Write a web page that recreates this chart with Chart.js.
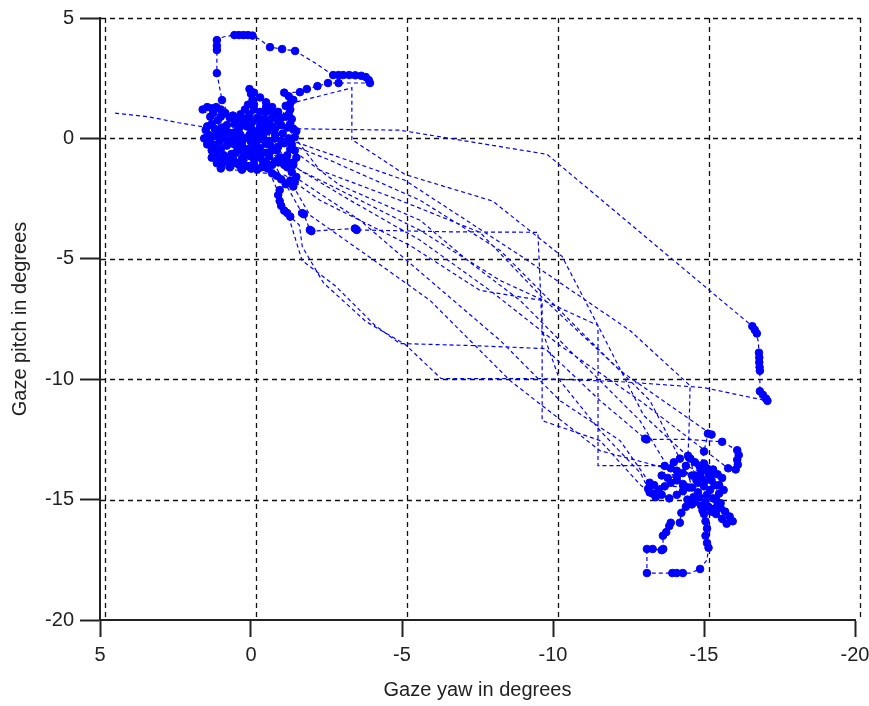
<!DOCTYPE html>
<html><head><meta charset="utf-8">
<script src="https://cdn.jsdelivr.net/npm/chart.js@4.4.1/dist/chart.umd.min.js"></script>
<style>html,body{margin:0;padding:0;background:#fff;}</style>
</head><body>
<canvas id="c" width="869" height="706"></canvas>
<script>
// ---- tick values ----
const xTickVals = [5, 0, -5, -10, -15, -20];
const yTickVals = [5, 0, -5, -10, -15, -20];

// ---- trajectory pieces: [yaw, pitch] in degrees ----
const blinkStart = [[4.5,1.05],[3.4,0.9],[2.4,0.65]];
const fixA1 = [[1.2,0.4],[1.1,0.3],[1.0,0.15],[0.9,0.0],[1.05,-0.15],[1.2,-0.3],[1.35,-0.1],[1.4,0.15],[1.0,-0.45],[0.8,-0.3],[0.7,-0.1],[0.6,0.1],[0.75,0.25],[0.55,-0.25],[0.45,-0.5],[0.65,-0.65],[0.9,-0.7]];
const fixA2 = [[1.1,0.75],[1.35,0.9],[1.6,1.2],[1.45,1.3],[1.3,1.25],[1.15,1.3],[1.0,1.2],[0.85,1.05],[1.0,0.9],[1.25,1.05],[0.7,0.85],[0.96,1.59]];
const loopUp = [[1.13,2.71],[1.13,3.67],[1.13,3.85],[1.13,4.08]];
const loopGap1 = [[0.9,4.22]];
const loopTop = [[0.55,4.29],[0.4,4.29],[0.25,4.29],[0.1,4.29],[-0.05,4.27]];
const loopGap2 = [[-0.3,4.1]];
const loopRight = [[-0.63,3.79],[-1.03,3.71],[-1.46,3.63]];
const loopGap3 = [[-2.1,3.15]];
const loopFar = [[-2.72,2.63],[-2.9,2.63],[-3.05,2.63],[-3.25,2.63],[-3.45,2.62],[-3.65,2.6],[-3.8,2.55],[-3.9,2.42],[-3.94,2.3]];
const lowRow = [[-2.9,2.3],[-2.55,2.3],[-2.2,2.17],[-1.85,2.05],[-1.62,1.92]];
const fixA5b = [[-1.1,1.9],[-1.25,1.75],[-1.4,1.6],[-1.3,1.45]];
const sac1 = [[-3.34,2.1],[-3.34,-0.05],[-5.1,-1.5],[-8.0,-2.6],[-10.3,-4.9],[-11.5,-7.8],[-13.0,-11.5]];
const fixB2 = [[-14.55,-13.3],[-14.7,-13.45],[-14.85,-13.6],[-15.0,-13.5],[-15.1,-13.7],[-14.9,-13.85],[-14.7,-14.0],[-15.2,-14.0],[-14.4,-13.6]];
const fixB3a = [[-14.6,-14.5],[-14.8,-14.7],[-14.65,-14.9],[-14.45,-15.0]];
const ret1 = [[-12.88,-11.72],[-10.89,-9.23],[-8.91,-6.73],[-7.25,-5.15],[-5.6,-3.4],[-2.95,-1.95],[-1.5,-0.6]];
const fixA5 = [[-1.3,-0.45],[-1.2,-0.7],[-0.95,-0.8],[-0.5,1.3],[-0.65,1.15],[-0.8,1.0],[-1.0,0.85],[-1.15,0.9],[-0.9,0.7],[-0.7,0.5],[-0.55,0.3],[-0.8,0.15],[-1.05,0.2],[-1.25,0.0],[-1.1,-0.2],[-0.9,-0.35],[-0.7,-0.5]];
const fixA13 = [[-1.15,1.35],[-1.3,1.2],[-1.25,1.0],[-1.35,0.8],[-1.3,0.6],[-1.4,0.4]];
const sac2 = [[-4.93,0.34],[-9.8,-0.66]];
const colFix1 = [[-16.6,-7.8],[-16.68,-7.95],[-16.75,-8.1]];
const colGap1 = [[-16.8,-8.5]];
const colFix2 = [[-16.82,-8.9],[-16.83,-9.1],[-16.83,-9.3],[-16.84,-9.5],[-16.85,-9.65]];
const colGap2 = [[-16.85,-10.1]];
const colFix3 = [[-16.85,-10.5],[-16.95,-10.65],[-17.05,-10.8],[-17.1,-10.9]];
const ret2 = [[-15.0,-10.35],[-12.2,-10.1],[-9.7,-9.98],[-6.3,-9.98],[-5.1,-8.55],[-3.8,-7.6],[-2.4,-6.0],[-1.7,-4.5],[-1.6,-3.6]];
const fixAext1 = [[-1.3,-3.25],[-1.2,-3.1],[-1.1,-3.0],[-1.0,-2.8],[-0.95,-2.6],[-0.9,-2.35],[-0.95,-2.15]];
const fixA7 = [[-1.15,-1.9],[-1.3,-1.75],[-1.0,-1.7],[-0.85,-1.55],[-0.7,-1.45],[-0.55,-1.25]];
const fixA6 = [[-0.35,-1.2],[-0.1,-1.05],[0.15,-1.15],[0.4,-1.1],[0.6,-1.03],[0.93,-1.03],[1.13,-1.03]];
const fixA8 = [[0.5,-0.6],[0.3,-0.4],[0.1,-0.5],[-0.1,-0.6],[-0.3,-0.4],[-0.5,-0.2],[-0.4,0.1],[-0.2,0.2],[0.0,0.6],[0.2,0.8],[0.35,1.0],[0.2,1.2],[-0.1,1.4],[-0.3,1.1],[-0.45,0.8]];
const fixA14 = [[0.6,0.95],[0.45,0.8],[0.55,0.6],[0.4,0.4],[0.55,0.25],[0.35,0.15],[0.5,-0.05],[0.3,-0.15],[0.45,-0.3],[0.25,-0.6],[0.05,-0.45],[-0.15,-0.25],[-0.05,0.0],[-0.25,0.15],[-0.45,0.3],[-0.3,0.55],[-0.5,0.6],[-0.25,0.8],[-0.05,0.7],[0.1,0.85]];
const fixAext2 = [[-1.69,-3.1],[-1.75,-3.15],[-1.95,-3.8],[-2.0,-3.85],[-3.44,-3.74],[-3.5,-3.8]];
const sac3 = [[-6.6,-3.88],[-9.5,-3.9],[-9.57,-5.9],[-9.64,-7.98],[-10.23,-10.06],[-11.56,-12.14],[-12.9,-13.9]];
const fixB1 = [[-13.15,-14.55],[-13.3,-14.75],[-13.5,-14.6],[-13.7,-14.45],[-13.9,-14.3],[-14.1,-14.2],[-14.3,-14.35],[-14.5,-14.5],[-13.35,-14.4],[-13.2,-14.3]];
const ret3 = [[-12.22,-12.55],[-10.23,-10.89],[-8.25,-8.39],[-5.93,-5.9],[-3.61,-3.4],[-1.62,-1.74],[-0.96,-0.91]];
const fixA3 = [[0.3,0.6],[0.15,0.5],[0.0,0.4],[-0.15,0.3],[0.05,0.15],[0.2,0.0],[0.0,-0.15],[-0.2,-0.1],[-0.35,0.05],[-0.1,-0.35],[0.15,-0.45],[0.3,-0.3],[-0.25,-0.6],[0.0,-0.75],[0.25,-0.9]];
const fixA15 = [[1.45,0.5],[1.3,0.6],[1.5,0.35],[1.55,0.0],[1.45,-0.25],[1.3,-0.5],[1.15,-0.6],[1.05,-0.85],[0.8,-0.9],[0.6,-0.8],[1.3,-0.8],[0.95,0.45],[0.8,0.55],[0.85,0.3],[1.2,0.1]];
const sac4 = [[-1.29,-0.07],[-5.1,-1.74],[-8.91,-4.86],[-12.55,-7.98],[-14.54,-10.27],[-14.5,-12.3]];
const fixB3 = [[-14.47,-13.18],[-14.5,-13.25],[-14.8,-14.3],[-15.0,-14.45],[-15.2,-14.6],[-15.35,-14.4],[-15.5,-14.75],[-15.3,-14.95],[-15.05,-15.1],[-14.85,-14.9],[-15.15,-15.3],[-15.45,-15.2],[-14.95,-15.45],[-15.25,-14.2]];
const ret4 = [[-11.56,-12.97],[-8.58,-10.06],[-5.93,-6.73],[-3.61,-4.65],[-1.95,-3.19],[-1.5,-2.2]];
const fixA9 = [[-1.4,-2.0],[-1.45,-1.8],[-1.5,-1.6],[-1.35,-1.4],[-1.2,-1.2],[-1.4,-1.0],[-1.5,-0.8],[-1.45,-0.5],[-1.35,-0.25],[-1.45,0.05],[-1.5,0.3]];
const fixA4 = [[-0.5,1.5],[-0.3,1.7],[-0.1,1.9],[0.05,2.05],[0.0,1.85],[-0.05,1.6],[0.1,1.4],[-0.1,1.2],[0.05,1.0],[-0.2,0.85]];
const sac5 = [[-1.29,-1.11],[-2.95,-2.15],[-5.6,-3.82],[-8.25,-5.9],[-11.49,-7.77],[-11.49,-10.5],[-11.49,-13.59],[-13.54,-13.59]];
const fixB8 = [[-13.7,-13.6],[-13.9,-13.7],[-14.1,-13.8],[-14.3,-13.9],[-14.1,-14.05],[-13.8,-14.1],[-13.6,-14.0],[-14.0,-13.45],[-14.2,-13.3]];
const ret5 = [[-13.21,-10.89],[-10.89,-7.98],[-8.25,-4.65],[-5.6,-2.57],[-2.62,-0.91],[-1.2,-0.2]];
const fixA10 = [[-1.0,-0.1],[-0.8,0.0],[-0.6,-0.1],[-0.65,-0.3],[-0.85,-0.5],[-0.5,-0.6],[-0.3,-0.8],[-0.1,-0.85],[0.1,-0.7],[0.3,-0.85],[0.5,-1.0]];
const fixA16 = [[-0.9,-1.0],[-1.1,-1.1],[-0.7,-1.1],[-0.5,-1.0],[-0.2,-1.3],[0.0,-1.25],[0.3,-1.3],[0.7,-1.2],[1.0,-1.25]];
const sac6 = [[-1.13,-1.53],[-2.28,-2.57],[-5.26,-4.44],[-7.58,-6.31],[-9.64,-6.73],[-9.64,-9.0],[-9.64,-11.72],[-11.56,-12.55],[-12.9,-14.4]];
const fixB9 = [[-13.2,-14.7],[-13.4,-14.9],[-13.6,-14.8],[-13.85,-14.95],[-14.1,-14.8],[-14.3,-14.65]];
const fixB11 = [[-14.6,-14.0],[-14.75,-14.2],[-14.9,-14.1],[-15.05,-14.2],[-15.15,-13.9],[-15.3,-13.75],[-15.45,-13.95],[-15.6,-14.1],[-15.5,-14.4],[-15.65,-14.6],[-15.4,-15.0],[-15.55,-15.15],[-15.1,-14.8],[-14.7,-15.1],[-14.9,-15.25],[-15.0,-15.35],[-15.3,-15.4]];
const fixB4 = [[-15.55,-15.35],[-15.7,-15.5],[-15.85,-15.7],[-15.95,-15.9],[-15.75,-16.0],[-15.6,-15.8],[-15.4,-15.6],[-15.25,-15.5]];
const fixB7 = [[-15.0,-15.6],[-15.05,-15.9],[-15.1,-16.2],[-15.05,-16.5],[-15.1,-16.8],[-15.15,-17.0]];
const bGap1 = [[-15.1,-17.5]];
const bLoop1 = [[-14.87,-17.88]];
const bGap2 = [[-14.55,-18.05]];
const bLoop2 = [[-14.3,-18.05],[-14.1,-18.05],[-13.95,-18.05]];
const bGap3 = [[-13.5,-18.05]];
const bLoop3 = [[-13.11,-18.05]];
const bGap4 = [[-13.11,-17.5]];
const bLoop4 = [[-13.11,-17.05],[-13.3,-17.05],[-13.6,-17.1],[-13.65,-17.05]];
const bLoop5 = [[-13.64,-16.5],[-13.75,-16.35],[-13.85,-16.1],[-13.9,-15.96],[-14.2,-15.96],[-14.25,-15.55],[-14.4,-15.3],[-14.6,-15.2]];
const fixB6 = [[-15.0,-13.0],[-15.13,-12.26],[-15.25,-12.3]];
const ret6 = [[-12.22,-9.64],[-9.74,-6.73],[-7.58,-3.9],[-4.93,-2.57],[-2.28,-1.32],[-1.29,0.3]];
const fixA11 = [[-1.2,0.45],[-1.0,0.55],[-0.8,0.4],[-0.6,0.6],[-0.7,0.85],[-0.9,1.1],[-0.7,1.3],[-0.5,1.1],[-0.3,0.4],[-0.1,0.1]];
const sac7 = [[-1.23,-3.19],[-1.69,-5.07],[-2.78,-6.11],[-4.11,-7.77],[-4.93,-8.52],[-7.25,-8.6],[-9.74,-8.73],[-11.56,-10.89]];
const fixB10 = [[-13.05,-12.47],[-13.1,-12.5]];
const bGap5 = [[-14.5,-12.5]];
const fixB5 = [[-15.6,-12.6],[-16.1,-12.95],[-16.15,-13.15],[-16.1,-13.35],[-16.12,-13.55],[-16.05,-13.75],[-15.8,-13.7]];
const ret7 = [[-12.88,-10.89],[-10.23,-8.6],[-7.91,-6.31],[-5.6,-4.23],[-3.28,-2.57],[-1.62,-1.32]];
const fixA12 = [[-1.4,-1.1],[-1.2,-0.95],[-1.0,-0.8],[-0.8,-0.95],[-0.6,-0.75],[-0.4,-0.95]];

// order of the recording: [piece, isFixation]
const trajectory = [
  [blinkStart,0],[fixA1,1],[fixA2,1],[loopUp,1],[loopGap1,0],[loopTop,1],[loopGap2,0],[loopRight,1],[loopGap3,0],[loopFar,1],[lowRow,1],[fixA5b,1],
  [sac1,0],[fixB2,1],[fixB3a,1],
  [ret1,0],[fixA5,1],[fixA13,1],
  [sac2,0],[colFix1,1],[colGap1,0],[colFix2,1],[colGap2,0],[colFix3,1],
  [ret2,0],[fixAext1,1],[fixA7,1],[fixA6,1],[fixA8,1],[fixA14,1],[fixAext2,1],
  [sac3,0],[fixB1,1],
  [ret3,0],[fixA3,1],[fixA15,1],
  [sac4,0],[fixB3,1],
  [ret4,0],[fixA9,1],[fixA4,1],
  [sac5,0],[fixB8,1],
  [ret5,0],[fixA10,1],[fixA16,1],
  [sac6,0],[fixB9,1],[fixB11,1],[fixB4,1],[fixB7,1],[bGap1,0],[bLoop1,1],[bGap2,0],[bLoop2,1],[bGap3,0],[bLoop3,1],[bGap4,0],[bLoop4,1],[bLoop5,1],[fixB6,1],
  [ret6,0],[fixA11,1],
  [sac7,0],[fixB10,1],[bGap5,0],[fixB5,1],
  [ret7,0],[fixA12,1]
];

const points = [];
const fixFlag = [];
trajectory.forEach(([piece, f]) => piece.forEach(([yaw, pitch]) => { points.push({x: yaw, y: pitch}); fixFlag.push(f); }));

const FONT = '"Liberation Sans", Arial, sans-serif';
const INK = '#222';
const GRID_SHIFT = 5; // grid lines in the original sit a few pixels right of the tick marks

const dashGrid = {
  id: 'dashGrid',
  beforeDatasetsDraw(chart) {
    const {ctx, chartArea: a, scales: {x, y}} = chart;
    ctx.save();
    ctx.strokeStyle = '#111';
    ctx.lineWidth = 1.3;
    ctx.setLineDash([5, 4]);
    const xr = Math.round(x.getPixelForValue(-20) + GRID_SHIFT) + 0.5;
    yTickVals.forEach(v => {
      if (v === -20) return;
      const py = Math.round(y.getPixelForValue(v)) + 0.5;
      ctx.beginPath(); ctx.moveTo(a.left + 1, py); ctx.lineTo(xr, py); ctx.stroke();
    });
    xTickVals.forEach(v => {
      const px = Math.round(x.getPixelForValue(v) + GRID_SHIFT) + 0.5;
      ctx.beginPath(); ctx.moveTo(px, a.top); ctx.lineTo(px, a.bottom); ctx.stroke();
    });
    ctx.restore();
  }
};

new Chart(document.getElementById('c'), {
  type: 'scatter',
  data: {
    datasets: [{
      data: points,
      showLine: true,
      borderColor: '#0000ff',
      borderWidth: 1.2,
      borderDash: [4, 3],
      tension: 0,
      pointRadius: ctx => fixFlag[ctx.dataIndex] ? 3.8 : 0,
      pointBorderWidth: 1,
      pointBackgroundColor: '#0000ff',
      pointBorderColor: '#0000ff',
      pointHoverRadius: 0
    }]
  },
  options: {
    responsive: false,
    animation: false,
    events: [],
    layout: {padding: {top: 18, right: 14, left: 0, bottom: 0}},
    plugins: {legend: {display: false}, tooltip: {enabled: false}},
    scales: {
      x: {
        type: 'linear', reverse: true, min: -20, max: 5,
        afterBuildTicks: s => { s.ticks = xTickVals.map(v => ({value: v})); },
        ticks: {color: INK, font: {family: FONT, size: 20}, padding: 6, maxRotation: 0, autoSkip: false},
        grid: {drawOnChartArea: false, drawTicks: true, tickLength: 17, tickWidth: 2, tickColor: INK},
        border: {display: true, color: INK, width: 2},
        title: {display: true, text: 'Gaze yaw in degrees', color: INK, font: {family: FONT, size: 20}, padding: {top: 0, bottom: 4}},
        afterFit: s => { s.height = 86; s.paddingLeft = 0; s.paddingRight = 0; }
      },
      y: {
        type: 'linear', min: -20, max: 5,
        afterBuildTicks: s => { s.ticks = yTickVals.map(v => ({value: v})); },
        ticks: {color: INK, font: {family: FONT, size: 20}, padding: 6, autoSkip: false},
        grid: {drawOnChartArea: false, drawTicks: true, tickLength: 20, tickWidth: 2, tickColor: INK},
        border: {display: true, color: INK, width: 2},
        title: {display: true, text: 'Gaze pitch in degrees', color: INK, font: {family: FONT, size: 20}, padding: {top: 8, bottom: 0}},
        afterFit: s => { s.width = 100; s.paddingTop = 0; s.paddingBottom = 0; }
      }
    }
  },
  plugins: [dashGrid]
});
</script>
</body></html>
